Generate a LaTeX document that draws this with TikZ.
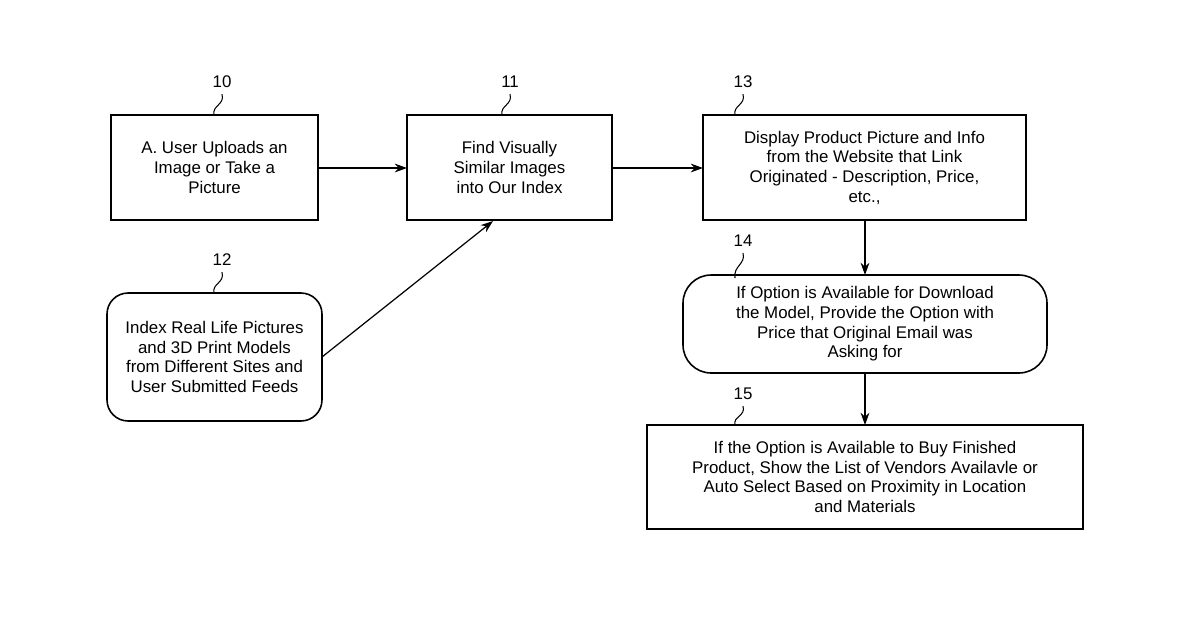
\documentclass[tikz,border=0pt]{standalone}
\usepackage{fontspec}
\setmainfont{Liberation Sans}
\usetikzlibrary{arrows.meta}
\begin{document}
\begin{tikzpicture}[x=0.02cm,y=-0.02cm,
  txt/.style={font=\fontsize{9.6}{11.2}\selectfont,align=center},
  box/.style={draw,line width=0.9pt},
  arr/.style={-{Stealth[length=7pt,width=5pt]},line width=0.7pt},
  lead/.style={line width=0.6pt},
  num/.style={font=\fontsize{9.6}{11}\selectfont}]
\useasboundingbox (0,0) rectangle (1200,630);
\draw[box] (111,115) rectangle (318,220);
\node[txt] (a) at (214.5,167.5) {A. User Uploads an\\Image or Take a\\Picture};
\coordinate (aR) at (318,168);
\draw[box] (407,115) rectangle (612,220);
\node[txt] (b) at (509.5,167.5) {Find Visually\\Similar Images\\into Our Index};
\coordinate (bL) at (407,168); \coordinate (bR) at (612,168); \coordinate (bB) at (493,221);
\draw[box] (703,115) rectangle (1026,220);
\node[txt] (c) at (864.5,167.5) {Display Product Picture and Info\\from the Website that Link\\Originated - Description, Price,\\etc.,};
\coordinate (cL) at (703,168); \coordinate (cB) at (865,220);
\draw[box,rounded corners=12pt] (107,293) rectangle (322,421);
\node[txt] (d) at (214.5,357) {Index Real Life Pictures\\and 3D Print Models\\from Different Sites and\\User Submitted Feeds};
\coordinate (dR) at (322,357);
\draw[box,rounded corners=16pt] (683,275) rectangle (1047,373);
\node[txt] (e) at (865,324) {If Option is Available for Download\\the Model, Provide the Option with\\Price that Original Email was\\Asking for};
\coordinate (eT) at (865,275); \coordinate (eB) at (865,373);
\draw[box] (647,425) rectangle (1083,529);
\node[txt] (f) at (865,477) {If the Option is Available to Buy Finished\\Product, Show the List of Vendors Availavle or\\Auto Select Based on Proximity in Location\\and Materials};
\coordinate (fT) at (865,425);
\draw[arr] (aR) -- (bL);
\draw[arr] (bR) -- (cL);
\draw[arr] (dR) -- (bB);
\draw[arr] (cB) -- (eT);
\draw[arr] (eB) -- (fT);
\node[num] (n10) at (222,82) {10};
\node[num] (n11) at (510,82) {11};
\node[num] (n13) at (743,82) {13};
\node[num] (n12) at (222,260) {12};
\node[num] (n14) at (743,241) {14};
\node[num] (n15) at (743,394) {15};
\draw[lead] (n10.south) .. controls (225,105) and (212,105) .. (214,115);
\draw[lead] (n11.south) .. controls (513,105) and (500,105) .. (502,115);
\draw[lead] (n13.south) .. controls (746,105) and (733,105) .. (735,115);
\draw[lead] (n12.south) .. controls (225,283) and (212,283) .. (214,293);
\draw[lead] (n14.south) .. controls (746,264) and (733,266) .. (735,278);
\draw[lead] (n15.south) .. controls (746,416) and (733,416) .. (735,425);
\end{tikzpicture}
\end{document}
